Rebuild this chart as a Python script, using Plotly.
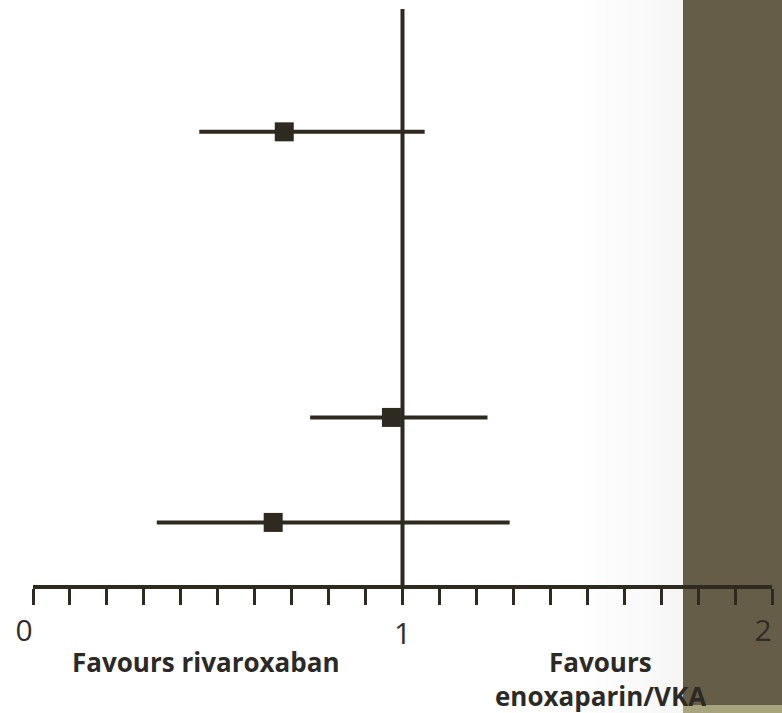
import plotly.graph_objects as go

# Hazard ratios with 95% confidence intervals
rows = [1.17, 3.89, 4.89]          # vertical row positions
hr = [0.68, 0.97, 0.65]
ci_low = [0.45, 0.75, 0.335]
ci_high = [1.06, 1.23, 1.29]

# Axis ticks: minor marks every 0.1, numbered at 0, 1 and 2
tick_vals = [round(i * 0.1, 1) for i in range(21)]
centre_label = {1: "1"}
end_vals = [0, 2]
end_text = ["0", "2"]
tick_text = [centre_label.get(v, "") for v in tick_vals]

INK = "#2e2a20"
TXT = "#2b2a26"
W, H = 782, 713
L, R, T, B = 33, 10, 9, 128
pw, ph = W - L - R, H - T - B
AXIS_Y = H - B  # pixel row of the x axis line


def px_x(p):
    return (p - L) / pw


def px_y(p):
    return (AXIS_Y - p) / ph


fig = go.Figure()

# Confidence interval bars
for y, lo, hi in zip(rows, ci_low, ci_high):
    fig.add_trace(go.Scatter(x=[lo, hi], y=[y, y], mode="lines",
                             line=dict(color=INK, width=4), hoverinfo="skip",
                             showlegend=False))

# Point estimates
fig.add_trace(go.Scatter(x=hr, y=rows, mode="markers",
                         marker=dict(symbol="square", size=19, color=INK,
                                     line=dict(width=0)),
                         showlegend=False))

# empty trace so the overlay axis carrying the end labels is drawn
fig.add_trace(go.Scatter(x=[], y=[], xaxis="x2", yaxis="y",
                         showlegend=False, hoverinfo="skip"))

shapes = []
# faint grey shading towards the right panel
n = 20
x_start, x_end = 580, 683
for i in range(n):
    a = x_start + (x_end - x_start) * i / n
    b = x_start + (x_end - x_start) * (i + 1) / n
    g = int(round(255 - 9 * (i + 1) / n))
    shapes.append(dict(type="rect", xref="paper", yref="paper",
                       x0=px_x(a), x1=px_x(b) + 0.002, y0=px_y(H + 4), y1=px_y(-2),
                       fillcolor=f"rgb({g},{g},{g})", line=dict(width=0),
                       layer="below"))
# right-hand panel
shapes.append(dict(type="rect", xref="paper", yref="paper",
                   x0=px_x(683), x1=px_x(W + 2), y0=px_y(705), y1=px_y(-2),
                   fillcolor="#665d48", line=dict(width=0), layer="below"))
shapes.append(dict(type="rect", xref="paper", yref="paper",
                   x0=px_x(683), x1=px_x(W + 2), y0=px_y(H + 4), y1=px_y(705),
                   fillcolor="#a8a47e", line=dict(width=0), layer="below"))
# line of no effect
shapes.append(dict(type="line", xref="x", yref="paper", x0=1, x1=1,
                   y0=0, y1=1, line=dict(color=INK, width=4)))

label_font = dict(family="Open Sans", size=26, color=TXT, weight="bold")
tick_font = dict(family="Open Sans", size=30, color="#2f2d28")

fig.update_layout(
    width=W, height=H, autosize=False,
    margin=dict(l=L, r=R, t=T, b=B, autoexpand=False),
    paper_bgcolor="white", plot_bgcolor="rgba(0,0,0,0)",
    shapes=shapes,
    xaxis=dict(range=[0, 2], tickmode="array", tickvals=tick_vals,
               ticktext=tick_text, ticks="outside", ticklen=16, tickwidth=3,
               tickcolor=INK, showline=True, linecolor=INK, linewidth=4,
               showgrid=False, zeroline=False, ticklabelstandoff=3,
               automargin=False, ticklabeloverflow="allow",
               tickfont=tick_font),
    xaxis2=dict(range=[0, 2], overlaying="x", side="bottom", anchor="y",
                tickmode="array", tickvals=end_vals, ticktext=end_text,
                ticks="outside", ticklen=16, tickwidth=1,
                tickcolor="rgba(0,0,0,0)", showline=False, showgrid=False,
                zeroline=False, ticklabelstandoff=3, ticklabelshift=-9,
                automargin=False, ticklabeloverflow="allow",
                tickfont=tick_font),
    yaxis=dict(range=[5.486, 0], visible=False, showgrid=False,
               zeroline=False, automargin=False),
    annotations=[
        dict(text="Favours rivaroxaban", xref="x", yref="paper",
             x=0.468, y=px_y(662), xanchor="center", yanchor="middle",
             showarrow=False, font=label_font),
        dict(text="Favours", xref="x", yref="paper",
             x=1.537, y=px_y(662), xanchor="center", yanchor="middle",
             showarrow=False, font=label_font),
        dict(text="enoxaparin/VKA", xref="x", yref="paper",
             x=1.537, y=px_y(696), xanchor="center", yanchor="middle",
             showarrow=False, font=label_font),
    ],
)

fig.write_html("out.html")
